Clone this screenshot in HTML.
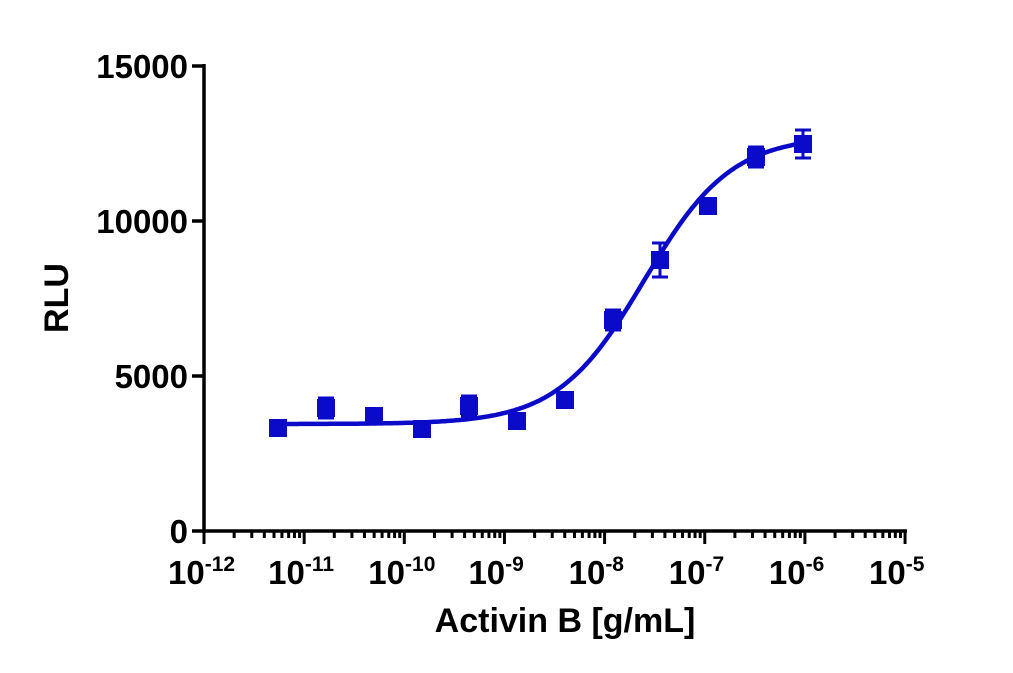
<!DOCTYPE html>
<html><head><meta charset="utf-8"><style>
html,body{margin:0;padding:0;background:#fff;}
svg{display:block;font-family:"Liberation Sans",Arial,sans-serif;font-weight:bold;}
</style></head><body>
<svg id="s" width="1013" height="673" viewBox="0 0 1013 673">
<g stroke="#000" stroke-width="3.5" fill="none">
<line x1="204" y1="64" x2="204" y2="533"/>
<line x1="202" y1="531" x2="907" y2="531"/>
<line x1="192" y1="66" x2="204" y2="66"/>
<line x1="192" y1="221" x2="204" y2="221"/>
<line x1="192" y1="376" x2="204" y2="376"/>
<line x1="192" y1="531" x2="204" y2="531"/>
</g>
<g id="ticks" stroke="#000" stroke-width="3"></g>
<g font-size="33" text-anchor="end" fill="#000">
<text x="188" y="78">15000</text>
<text x="188" y="233">10000</text>
<text x="188" y="388">5000</text>
<text x="188" y="543">0</text>
</g>
<g id="xl" font-size="33" fill="#000"></g>
<text x="68" y="298" font-size="34" text-anchor="middle" transform="rotate(-90 68 298)">RLU</text>
<text x="565" y="632" font-size="34" text-anchor="middle">Activin B [g/mL]</text>
<path id="curve" fill="none" stroke="#0a0ac8" stroke-width="4.5"/>
<g id="pts" fill="#0a0ac8" stroke="#0a0ac8" stroke-width="3"></g>
</svg>
<script>
var NS="http://www.w3.org/2000/svg";
function X(l){return 204+(l+12)*100.15;}
function Y(v){return 531-v*0.031;}
var t=document.getElementById("ticks"),xl=document.getElementById("xl");
for(var d=-12;d<=-5;d++){
 var x=X(d);var ln=document.createElementNS(NS,"line");
 ln.setAttribute("x1",x);ln.setAttribute("x2",x);ln.setAttribute("y1",531);ln.setAttribute("y2",544);t.appendChild(ln);
 var tx=document.createElementNS(NS,"text");tx.setAttribute("x",x-36);tx.setAttribute("y",584);
 tx.innerHTML='10<tspan font-size="21" dy="-13">'+d+'</tspan>';xl.appendChild(tx);
 if(d<-5)for(var k=2;k<10;k++){var xx=X(d+Math.log10(k));var m=document.createElementNS(NS,"line");
 m.setAttribute("x1",xx);m.setAttribute("x2",xx);m.setAttribute("y1",531);m.setAttribute("y2",538);t.appendChild(m);}
}
function f(l){var r=Math.pow(Math.pow(10,l)/2.5e-8,1.0);return 3450+9300*r/(1+r);}
var p="";for(var l=Math.log10(5.7e-12);l<=-6.0001+0.01;l+=0.02){p+=(p?"L":"M")+X(l).toFixed(1)+","+Y(f(l)).toFixed(1);}
document.getElementById("curve").setAttribute("d",p);
var xs=[278,326,374,422,469,517,565,613,660,708,756,803];
var ys=[428,408,416,429,406,421,400,320,260,206,157,144];
var es=[4,10,8,5,10,8,4,10,17,4,10,14];
var g=document.getElementById("pts");
for(var i=0;i<xs.length;i++){
 var r=document.createElementNS(NS,"rect");r.setAttribute("x",xs[i]-9);r.setAttribute("y",ys[i]-9);r.setAttribute("width",18);r.setAttribute("height",18);r.setAttribute("stroke","none");g.appendChild(r);
 var e=es[i];
 if(e>8){var pl=document.createElementNS(NS,"path");
 pl.setAttribute("d","M"+xs[i]+","+(ys[i]-e)+"V"+(ys[i]+e)+"M"+(xs[i]-8)+","+(ys[i]-e)+"h16M"+(xs[i]-8)+","+(ys[i]+e)+"h16");
 pl.setAttribute("fill","none");g.appendChild(pl);}
}
</script>
</body></html>
